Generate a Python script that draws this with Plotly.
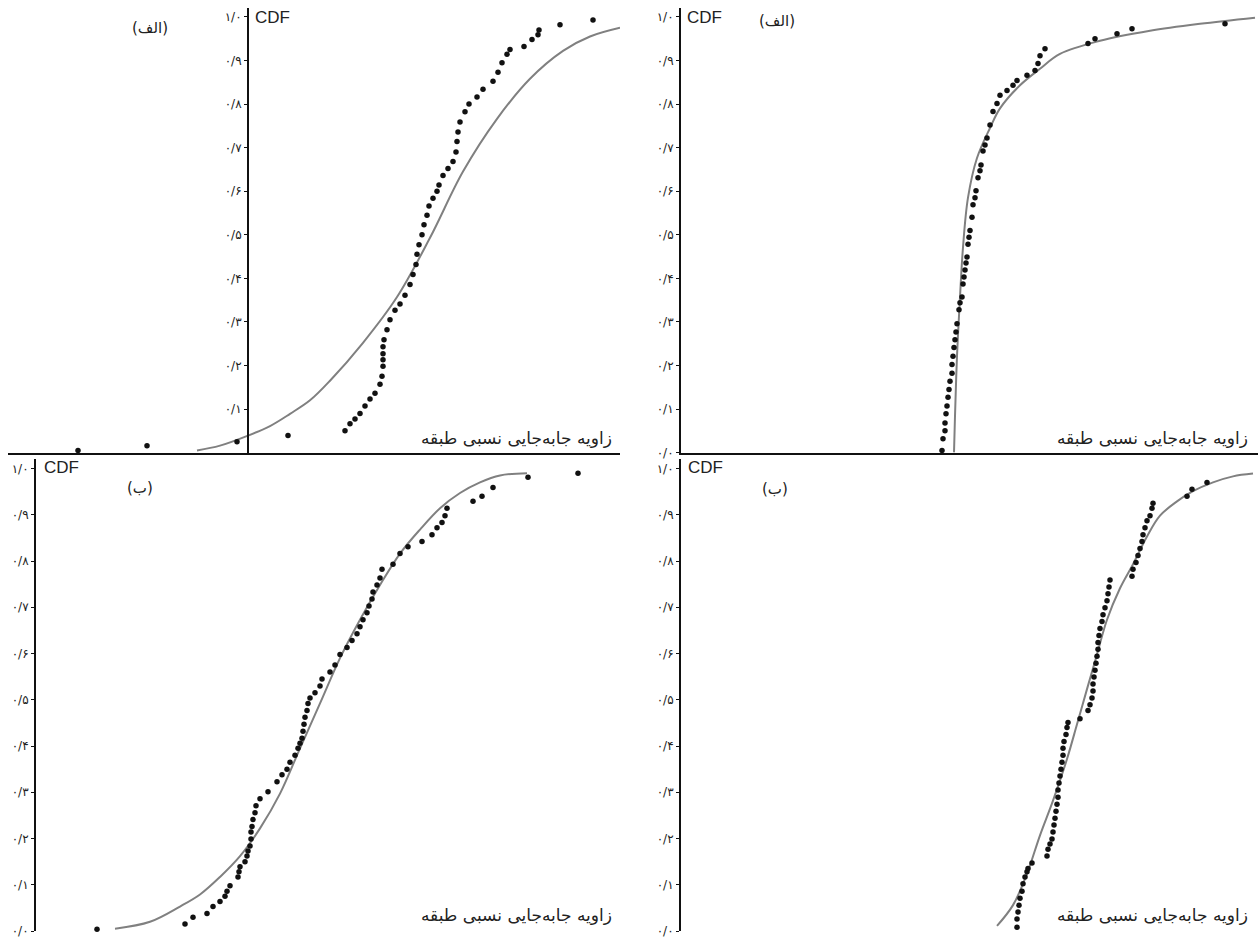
import plotly.graph_objects as go

# ---------------- data ----------------
# Panel A-left (top-left)
tl_dot_x = [-1.70, -1.01, -0.11, 0.40, 0.97, 1.02, 1.07, 1.12, 1.17, 1.22, 1.27, 1.32, 1.34, 1.35, 1.35, 1.35,
            1.35, 1.36, 1.39, 1.42, 1.47, 1.52, 1.57, 1.62, 1.65, 1.68, 1.69, 1.71, 1.74, 1.76, 1.79, 1.81,
            1.85, 1.89, 1.91, 1.95, 2.00, 2.05, 2.08, 2.09, 2.10, 2.12, 2.17, 2.21, 2.29, 2.35, 2.45, 2.50,
            2.54, 2.59, 2.62, 2.76, 2.84, 2.90, 2.91, 3.12, 3.45]
tl_dot_y = [0.005, 0.016, 0.025, 0.039, 0.050, 0.066, 0.077, 0.090, 0.107, 0.123, 0.136, 0.157, 0.175, 0.198, 0.213, 0.227,
            0.243, 0.259, 0.282, 0.305, 0.327, 0.341, 0.361, 0.386, 0.409, 0.432, 0.455, 0.477, 0.500, 0.523, 0.545, 0.566,
            0.584, 0.600, 0.614, 0.636, 0.652, 0.668, 0.690, 0.714, 0.736, 0.759, 0.782, 0.800, 0.816, 0.834, 0.852, 0.873,
            0.895, 0.914, 0.925, 0.932, 0.948, 0.959, 0.970, 0.982, 0.993]
tl_fit_x = [-0.51, -0.28, 0.00, 0.22, 0.42, 0.62, 0.82, 1.15, 1.49, 1.82, 2.15, 2.49, 2.82, 3.15, 3.42, 3.72]
tl_fit_y = [0.005, 0.016, 0.039, 0.061, 0.089, 0.120, 0.165, 0.252, 0.357, 0.493, 0.645, 0.766, 0.858, 0.922, 0.955, 0.975]

# Panel A-right (top-right)
tr_dot_x = [2.61, 2.62, 2.64, 2.64, 2.65, 2.66, 2.67, 2.68, 2.69, 2.71, 2.71, 2.72, 2.73, 2.74, 2.75, 2.76,
            2.78, 2.79, 2.81, 2.82, 2.83, 2.84, 2.85, 2.86, 2.87, 2.88, 2.89, 2.91, 2.92, 2.94, 2.95, 2.97,
            2.99, 3.00, 3.02, 3.04, 3.06, 3.09, 3.12, 3.16, 3.19, 3.26, 3.32, 3.36, 3.46, 3.54, 3.57, 3.59,
            3.64, 4.07, 4.14, 4.36, 4.51, 5.44]
tr_dot_y = [0.005, 0.032, 0.050, 0.068, 0.089, 0.107, 0.127, 0.145, 0.164, 0.182, 0.202, 0.221, 0.241, 0.259, 0.277, 0.296,
            0.328, 0.344, 0.357, 0.387, 0.403, 0.419, 0.435, 0.449, 0.478, 0.494, 0.510, 0.540, 0.569, 0.585, 0.601, 0.631,
            0.647, 0.660, 0.692, 0.706, 0.722, 0.752, 0.783, 0.801, 0.820, 0.831, 0.843, 0.854, 0.866, 0.877, 0.893, 0.911,
            0.927, 0.939, 0.950, 0.961, 0.973, 0.984]
tr_fit_x = [2.73, 2.74, 2.76, 2.79, 2.82, 2.87, 2.96, 3.09, 3.19, 3.39, 3.59, 3.79, 4.19, 4.69, 5.19, 5.74]
tr_fit_y = [0.000, 0.084, 0.221, 0.357, 0.471, 0.585, 0.676, 0.745, 0.790, 0.843, 0.881, 0.915, 0.945, 0.968, 0.984, 0.998]

# Panel B-left (bottom-left)
bl_dot_x = [0.61, 1.49, 1.57, 1.71, 1.77, 1.84, 1.89, 1.91, 1.94, 2.02, 2.03, 2.04, 2.09, 2.11, 2.12, 2.14,
            2.15, 2.15, 2.16, 2.17, 2.19, 2.20, 2.24, 2.32, 2.41, 2.46, 2.51, 2.54, 2.59, 2.62, 2.64, 2.66,
            2.67, 2.68, 2.69, 2.71, 2.72, 2.74, 2.79, 2.84, 2.86, 2.94, 2.99, 3.04, 3.11, 3.16, 3.21, 3.24,
            3.27, 3.31, 3.33, 3.36, 3.37, 3.41, 3.44, 3.46, 3.57, 3.64, 3.72, 3.86, 3.96, 4.01, 4.06, 4.09,
            4.11, 4.37, 4.46, 4.57, 4.92, 5.42]
bl_dot_y = [0.004, 0.015, 0.030, 0.038, 0.053, 0.064, 0.075, 0.086, 0.098, 0.117, 0.128, 0.139, 0.150, 0.162, 0.173, 0.184,
            0.199, 0.214, 0.226, 0.241, 0.256, 0.271, 0.286, 0.301, 0.323, 0.338, 0.350, 0.365, 0.380, 0.395, 0.406, 0.417,
            0.432, 0.447, 0.462, 0.477, 0.492, 0.504, 0.515, 0.530, 0.545, 0.560, 0.575, 0.598, 0.613, 0.628, 0.643, 0.658,
            0.673, 0.688, 0.703, 0.718, 0.733, 0.748, 0.763, 0.782, 0.793, 0.816, 0.831, 0.842, 0.857, 0.872, 0.883, 0.898,
            0.914, 0.929, 0.940, 0.959, 0.981, 0.990]
bl_fit_x = [0.79, 1.14, 1.44, 1.64, 1.84, 2.04, 2.24, 2.44, 2.64, 2.84, 3.04, 3.24, 3.44, 3.64, 3.84, 4.04,
            4.24, 4.44, 4.64, 4.91]
bl_fit_y = [0.005, 0.020, 0.053, 0.079, 0.117, 0.162, 0.222, 0.297, 0.395, 0.492, 0.590, 0.673, 0.748, 0.816, 0.868, 0.914,
            0.947, 0.970, 0.985, 0.990]

# Panel B-right (bottom-right)
br_dot_x = [3.36, 3.36, 3.37, 3.38, 3.39, 3.41, 3.42, 3.44, 3.46, 3.47, 3.51, 3.66, 3.67, 3.69, 3.71, 3.72,
            3.73, 3.74, 3.75, 3.76, 3.77, 3.77, 3.78, 3.79, 3.80, 3.81, 3.82, 3.82, 3.83, 3.85, 3.86, 3.87,
            3.99, 4.07, 4.09, 4.11, 4.12, 4.12, 4.13, 4.14, 4.15, 4.16, 4.17, 4.17, 4.18, 4.19, 4.21, 4.22,
            4.24, 4.26, 4.27, 4.28, 4.29, 4.51, 4.52, 4.55, 4.57, 4.59, 4.61, 4.62, 4.64, 4.66, 4.69, 4.71,
            4.72, 5.06, 5.11, 5.26]
br_dot_y = [0.008, 0.026, 0.041, 0.056, 0.071, 0.086, 0.102, 0.117, 0.128, 0.135, 0.147, 0.162, 0.177, 0.188, 0.199, 0.214,
            0.229, 0.244, 0.259, 0.274, 0.289, 0.305, 0.320, 0.335, 0.350, 0.365, 0.380, 0.395, 0.410, 0.425, 0.440, 0.451,
            0.459, 0.477, 0.489, 0.504, 0.519, 0.534, 0.549, 0.564, 0.579, 0.594, 0.609, 0.624, 0.639, 0.654, 0.669, 0.684,
            0.699, 0.714, 0.729, 0.744, 0.759, 0.767, 0.782, 0.797, 0.812, 0.827, 0.842, 0.857, 0.872, 0.887, 0.898, 0.914,
            0.925, 0.940, 0.955, 0.970]
br_fit_x = [3.16, 3.32, 3.46, 3.59, 3.72, 3.86, 3.96, 4.06, 4.16, 4.26, 4.39, 4.52, 4.66, 4.79, 4.96, 5.12,
            5.32, 5.52, 5.72]
br_fit_y = [0.011, 0.056, 0.124, 0.207, 0.282, 0.372, 0.447, 0.523, 0.598, 0.673, 0.741, 0.793, 0.853, 0.898, 0.929, 0.951,
            0.970, 0.983, 0.989]

tick_vals = [0.0, 0.1, 0.2, 0.3, 0.4, 0.5, 0.6, 0.7, 0.8, 0.9, 1.0]
tick_text = ["۰/۰", "۰/۱", "۰/۲", "۰/۳", "۰/۴", "۰/۵", "۰/۶", "۰/۷", "۰/۸", "۰/۹", "۱/۰"]
x_title = "زاویه جابه‌جایی نسبی طبقه"
label_a = "(الف)"
label_b = "(ب)"
y_title = "CDF"

# ---------------- figure ----------------
W, H = 1258, 943
def px(v):
    return v / W
def py(v):
    return 1 - v / H

fig = go.Figure()
panels = [
    ("x", "y", tl_dot_x, tl_dot_y, tl_fit_x, tl_fit_y),
    ("x2", "y2", tr_dot_x, tr_dot_y, tr_fit_x, tr_fit_y),
    ("x3", "y3", bl_dot_x, bl_dot_y, bl_fit_x, bl_fit_y),
    ("x4", "y4", br_dot_x, br_dot_y, br_fit_x, br_fit_y),
]
for xa, ya, dx, dy, fx, fy in panels:
    fig.add_trace(go.Scatter(x=fx, y=fy, mode="lines", xaxis=xa, yaxis=ya,
                             line=dict(color="#808080", width=2, shape="spline", smoothing=1.0),
                             hoverinfo="skip", showlegend=False, cliponaxis=False))
    fig.add_trace(go.Scatter(x=dx, y=dy, mode="markers", xaxis=xa, yaxis=ya,
                             marker=dict(color="#111111", size=5.5, line=dict(width=0)),
                             showlegend=False, cliponaxis=False))

tickfont = dict(family="DejaVu Sans", size=12, color="#222222")

def xaxis(dom, rng):
    return dict(domain=dom, range=rng, showline=True, linecolor="#111111", linewidth=2,
                showgrid=False, zeroline=False, showticklabels=False, ticks="", fixedrange=True)

def yaxis(dom, anchor, pos, tv, tt):
    d = dict(domain=dom, range=[0, 1.02], showline=True, linecolor="#111111", linewidth=2,
             showgrid=False, zeroline=False, tickvals=tv, ticktext=tt, ticks="outside",
             ticklen=3, tickwidth=1, tickcolor="#111111", tickfont=tickfont, fixedrange=True)
    if anchor == "free":
        d.update(anchor="free", position=pos)
    else:
        d.update(anchor=anchor)
    return d

top_dom = [py(456), py(456 - 1.02 * 439)]
bot_dom = [py(938), py(938 - 1.02 * 466)]

fig.update_layout(
    width=W, height=H, margin=dict(l=0, r=0, t=0, b=0),
    paper_bgcolor="white", plot_bgcolor="rgba(0,0,0,0)",
    xaxis=xaxis([px(8), px(620)], [-2.40, 3.72]),
    yaxis=yaxis(top_dom, "free", px(248), tick_vals[1:], tick_text[1:]),
    xaxis2=xaxis([px(681), 1.0], [0, 5.77]),
    yaxis2=yaxis(top_dom, "x2", None, tick_vals, tick_text),
    xaxis3=xaxis([px(36), px(620)], [0, 5.84]),
    yaxis3=yaxis(bot_dom, "x3", None, tick_vals, tick_text),
    xaxis4=xaxis([px(681), 1.0], [0, 5.77]),
    yaxis4=yaxis(bot_dom, "x4", None, tick_vals, tick_text),
)

ann = []
def add_text(text, x, y, xanchor, size, family):
    ann.append(dict(text=text, x=px(x), y=py(y), xref="paper", yref="paper",
                    xanchor=xanchor, yanchor="middle", showarrow=False,
                    font=dict(family=family, size=size, color="#222222")))

# top-left
add_text(y_title, 253, 18, "left", 17, "Liberation Sans")
add_text(label_a, 150, 28, "center", 15, "DejaVu Sans")
add_text(x_title, 614, 441, "right", 17, "DejaVu Sans")
# top-right
add_text(y_title, 685, 18, "left", 17, "Liberation Sans")
add_text(label_a, 777, 21, "center", 15, "DejaVu Sans")
add_text(x_title, 1250, 441, "right", 17, "DejaVu Sans")
# bottom-left
add_text(y_title, 42, 471, "left", 17, "Liberation Sans")
add_text(label_b, 140, 492, "center", 15, "DejaVu Sans")
add_text(x_title, 614, 922, "right", 17, "DejaVu Sans")
# bottom-right
add_text(y_title, 686, 471, "left", 17, "Liberation Sans")
add_text(label_b, 775, 493, "center", 15, "DejaVu Sans")
add_text(x_title, 1250, 922, "right", 17, "DejaVu Sans")

fig.update_layout(annotations=ann)
fig.write_html("out.html", config={"displayModeBar": False},
               post_script="document.body.style.margin='0';document.body.style.overflow='hidden';")
